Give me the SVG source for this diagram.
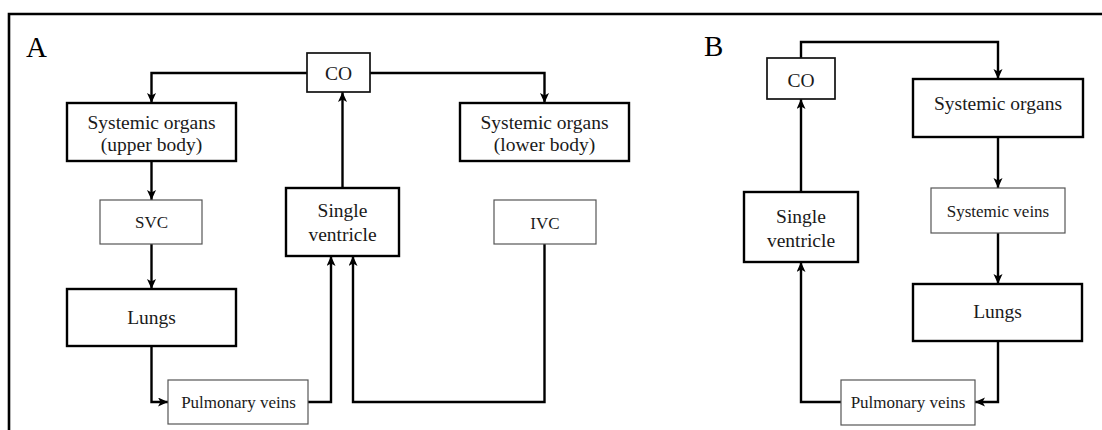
<svg xmlns="http://www.w3.org/2000/svg" width="1102" height="430" viewBox="0 0 1102 430">
  <defs>
    <marker id="arrow" markerUnits="userSpaceOnUse" markerWidth="12" markerHeight="10" refX="10" refY="4.5" orient="auto">
      <path d="M0,0 L10,4.5 L0,9 L2.5,4.5 z" fill="#000"/>
    </marker>
    <style>
      .thick { fill: #fff; stroke: #000; stroke-width: 2.4; }
      .thin { fill: #fff; stroke: #555; stroke-width: 1.2; }
      .co { fill: #fff; stroke: #111; stroke-width: 1.7; }
      .big { font-family: "Liberation Serif", "Times New Roman", serif; font-size: 19.5px; fill: #1a1a1a; text-anchor: middle; }
      .small { font-family: "Liberation Serif", "Times New Roman", serif; font-size: 17px; fill: #1a1a1a; text-anchor: middle; }
      .panel { font-family: "Liberation Serif", "Times New Roman", serif; font-size: 29px; fill: #000; }
      .link { fill: none; stroke: #000; stroke-width: 2.4; marker-end: url(#arrow); }
      .plain { fill: none; stroke: #000; stroke-width: 2.4; }
      .frame { fill: none; stroke: #000; stroke-width: 2.6; }
    </style>
  </defs>

  <rect width="1102" height="430" fill="#fff"/>

  <!-- frame -->
  <path class="frame" d="M9,430 L9,14 L1102,14"/>

  <!-- panel labels -->
  <text class="panel" x="26" y="57">A</text>
  <text class="panel" x="704" y="56">B</text>

  <!-- connectors -->
  <g id="connectors">
    <!-- panel A -->
    <path class="link" d="M307,73 L151.5,73 L151.5,103"/>
    <path class="link" d="M370,73 L544.5,73 L544.5,103"/>
    <path class="link" d="M151.5,161 L151.5,200"/>
    <path class="link" d="M151.5,244 L151.5,289"/>
    <path class="link" d="M151.5,346 L151.5,402 L168,402"/>
    <path class="link" d="M308,402 L331,402 L331,256"/>
    <path class="link" d="M544.5,244 L544.5,402 L353,402 L353,256"/>
    <path class="link" d="M342.5,188 L342.5,92"/>
    <!-- panel B -->
    <path class="link" d="M801,58 L801,42 L998,42 L998,79"/>
    <path class="link" d="M998,137 L998,188"/>
    <path class="link" d="M998,233 L998,284"/>
    <path class="link" d="M998,341 L998,402 L975,402"/>
    <path class="link" d="M841,402 L801,402 L801,262"/>
    <path class="link" d="M801,192 L801,99"/>
  </g>

  <!-- panel A nodes -->
  <g id="a-co">
    <rect class="co" x="307" y="53" width="63" height="39"/>
    <text class="big" x="338.5" y="80">CO</text>
  </g>
  <g id="a-systemic-upper">
    <rect class="thick" x="67" y="103" width="169" height="58"/>
    <text class="big" x="151.5" y="128.5">Systemic organs</text>
    <text class="big" x="151.5" y="151">(upper body)</text>
  </g>
  <g id="a-svc">
    <rect class="thin" x="100" y="200" width="102" height="44"/>
    <text class="small" x="151.5" y="227.5">SVC</text>
  </g>
  <g id="a-lungs">
    <rect class="thick" x="67" y="289" width="169" height="57"/>
    <text class="big" x="151.5" y="323.5">Lungs</text>
  </g>
  <g id="a-pulmonary-veins">
    <rect class="thin" x="168" y="380" width="140" height="44"/>
    <text class="small" x="238.5" y="408">Pulmonary veins</text>
  </g>
  <g id="a-single-ventricle">
    <rect class="thick" x="286" y="188" width="113" height="68"/>
    <text class="big" x="342.5" y="217">Single</text>
    <text class="big" x="342.5" y="241">ventricle</text>
  </g>
  <g id="a-systemic-lower">
    <rect class="thick" x="460" y="103" width="169" height="58"/>
    <text class="big" x="544.5" y="128.5">Systemic organs</text>
    <text class="big" x="544.5" y="151">(lower body)</text>
  </g>
  <g id="a-ivc">
    <rect class="thin" x="494" y="200" width="102" height="44"/>
    <text class="small" x="545" y="228.5">IVC</text>
  </g>

  <!-- panel B nodes -->
  <g id="b-co">
    <rect class="co" x="767" y="58" width="68" height="41"/>
    <text class="big" x="801" y="87">CO</text>
  </g>
  <g id="b-systemic-organs">
    <rect class="thick" x="913" y="79" width="170" height="58"/>
    <text class="big" x="998" y="110">Systemic organs</text>
  </g>
  <g id="b-systemic-veins">
    <rect class="thin" x="931" y="188" width="134" height="45"/>
    <text class="small" x="998" y="217">Systemic veins</text>
  </g>
  <g id="b-lungs">
    <rect class="thick" x="913" y="284" width="169" height="57"/>
    <text class="big" x="997.5" y="318">Lungs</text>
  </g>
  <g id="b-pulmonary-veins">
    <rect class="thin" x="841" y="380" width="134" height="45"/>
    <text class="small" x="908" y="408">Pulmonary veins</text>
  </g>
  <g id="b-single-ventricle">
    <rect class="thick" x="744" y="192" width="114" height="70"/>
    <text class="big" x="801" y="223">Single</text>
    <text class="big" x="801" y="247">ventricle</text>
  </g>
</svg>
